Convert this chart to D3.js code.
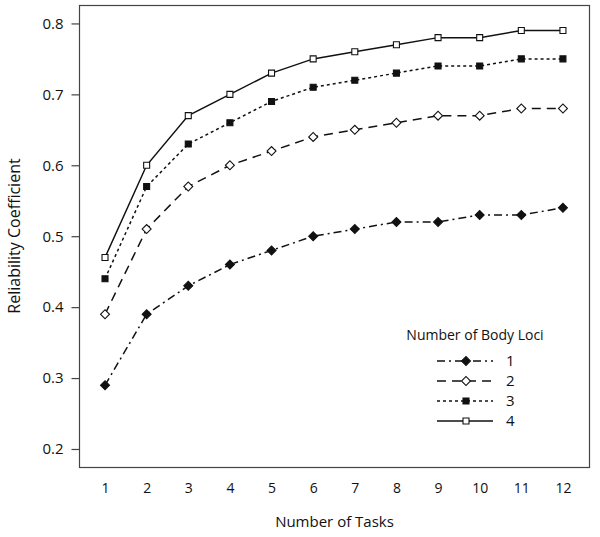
<!DOCTYPE html>
<html>
<head>
<meta charset="utf-8">
<script src="https://cdn.jsdelivr.net/npm/d3@7"></script>
<style>
	body { margin: 0; background: #fff; }
	text { font-family: "Open Sans", "DejaVu Sans", sans-serif; fill: #111; }
</style>
</head>
<body>
<svg id="chart" width="600" height="537"></svg>
<script>
var tasks = [1, 2, 3, 4, 5, 6, 7, 8, 9, 10, 11, 12];
var yTicks = [0.2, 0.3, 0.4, 0.5, 0.6, 0.7, 0.8];
var lociNames = ["1", "2", "3", "4"];
var loci1 = [0.29, 0.39, 0.43, 0.46, 0.48, 0.50, 0.51, 0.52, 0.52, 0.53, 0.53, 0.54];
var loci2 = [0.39, 0.51, 0.57, 0.60, 0.62, 0.64, 0.65, 0.66, 0.67, 0.67, 0.68, 0.68];
var loci3 = [0.44, 0.57, 0.63, 0.66, 0.69, 0.71, 0.72, 0.73, 0.74, 0.74, 0.75, 0.75];
var loci4 = [0.47, 0.60, 0.67, 0.70, 0.73, 0.75, 0.76, 0.77, 0.78, 0.78, 0.79, 0.79];

// line + marker style for each series (diamonds = squares turned 45deg)
var styles = [
	{dash: "8,4,2,4", rot: 45, fill: "#111", size: 40},
	{dash: "9,6", rot: 45, fill: "#fff", size: 40},
	{dash: "3,3", rot: 0, fill: "#111", size: 36},
	{dash: null, rot: 0, fill: "#fff", size: 36}
];
var series = [loci1, loci2, loci3, loci4];

var svg = d3.select("#chart");
var plotLeft = 79, plotTop = 5, plotW = 511, plotH = 462;

var x = d3.scaleLinear().domain([0.375, 12.65]).range([plotLeft, plotLeft + plotW]);
var y = d3.scaleLinear().domain([0.1746, 0.826]).range([plotTop + plotH, plotTop]);

// frame
svg.append("rect")
	.attr("x", plotLeft + 0.5)
	.attr("y", plotTop + 0.5)
	.attr("width", plotW - 1)
	.attr("height", plotH)
	.attr("fill", "none")
	.attr("stroke", "#444")
	.attr("stroke-width", 1.2);

// y axis
var yAxis = d3.axisLeft(y).tickValues(yTicks).tickFormat(d3.format(".1f")).tickSize(8).tickPadding(8);
var gy = svg.append("g").attr("transform", "translate(" + (plotLeft + 0.5) + ",0)").call(yAxis);
gy.select(".domain").remove();
gy.selectAll("line").attr("stroke", "#444").attr("stroke-width", 1.2);
gy.selectAll("text").style("font-size", "15px").attr("fill", "#111");

// x axis (labels only)
var xAxis = d3.axisBottom(x).tickValues(tasks).tickFormat(d3.format("d")).tickSize(0).tickPadding(16);
var gx = svg.append("g").attr("transform", "translate(0," + (plotTop + plotH) + ")").call(xAxis);
gx.select(".domain").remove();
gx.selectAll("text").style("font-size", "14px").attr("fill", "#111");

// axis titles
svg.append("text")
	.attr("x", plotLeft + plotW / 2)
	.attr("y", 527)
	.attr("text-anchor", "middle")
	.style("font-size", "15px")
	.text("Number of Tasks");
svg.append("text")
	.attr("transform", "translate(20," + (plotTop + plotH / 2) + ") rotate(-90)")
	.attr("text-anchor", "middle")
	.style("font-size", "16px")
	.text("Reliability Coefficient");

var line = d3.line()
	.x(function (d, i){return x(tasks[i]);})
	.y(function (d){return y(d);});

series.forEach(function (values, s){
	var st = styles[s];
	svg.append("path")
		.datum(values)
		.attr("d", line)
		.attr("fill", "none")
		.attr("stroke", "#111")
		.attr("stroke-width", 1.5)
		.attr("stroke-dasharray", st.dash);
});

function marker(sel, st){
	sel.attr("d", d3.symbol().type(d3.symbolSquare).size(st.size))
		.attr("fill", st.fill)
		.attr("stroke", "#111")
		.attr("stroke-width", 1.1);
}

series.forEach(function (values, s){
	var st = styles[s];
	svg.append("g")
		.selectAll("path")
		.data(values)
		.enter()
		.append("path")
		.attr("transform", function (d, i){return "translate(" + x(tasks[i]) + "," + y(d) + ") rotate(" + st.rot + ")";})
		.call(marker, st);
});

//===============================================
// Legend
//===============================================
var legend = svg.append("g");
legend.append("text")
	.attr("x", 475)
	.attr("y", 340)
	.attr("text-anchor", "middle")
	.style("font-size", "14px")
	.text("Number of Body Loci");

lociNames.forEach(function (name, s){
	var st = styles[s];
	var ly = 361 + s * 20;
	legend.append("line")
		.attr("x1", 437).attr("x2", 493)
		.attr("y1", ly).attr("y2", ly)
		.attr("stroke", "#111")
		.attr("stroke-width", 1.5)
		.attr("stroke-dasharray", st.dash);
	legend.append("path")
		.attr("transform", "translate(466," + ly + ") rotate(" + st.rot + ")")
		.call(marker, st);
	legend.append("text")
		.attr("x", 506)
		.attr("y", ly + 5)
		.style("font-size", "15px")
		.text(name);
});
</script>
</body>
</html>
